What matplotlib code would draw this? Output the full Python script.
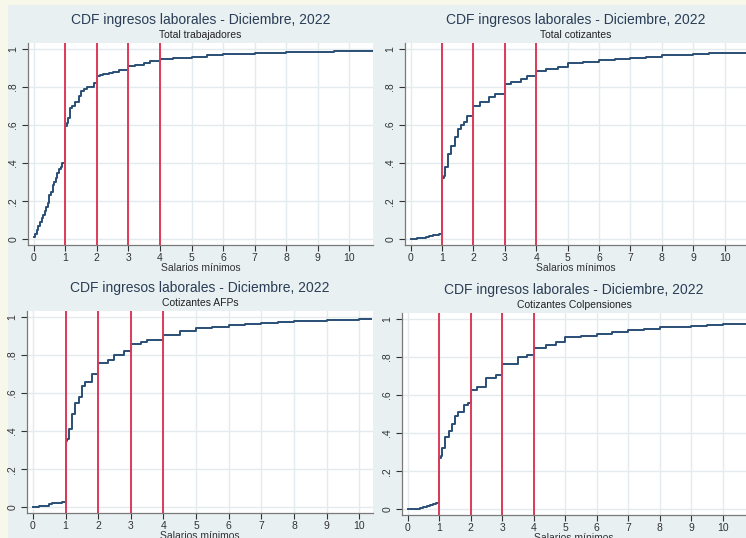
import numpy as np
import matplotlib.pyplot as plt
from matplotlib.patches import Rectangle

# ==========================
# datos
# ==========================
titulo = "CDF ingresos laborales - Diciembre, 2022"
subtitulos = ["Total trabajadores", "Total cotizantes", "Cotizantes AFPs", "Cotizantes Colpensiones"]
salarios_ref = [1, 2, 3, 4]

tl_x = [0, 0.05, 0.1, 0.15, 0.2, 0.25, 0.3, 0.35, 0.4, 0.45, 0.5, 0.55, 0.6, 0.65, 0.7, 0.75, 0.8, 0.85, 0.9,
        1.0, 1.05, 1.1, 1.15, 1.2, 1.3, 1.45, 1.5, 1.6, 1.7, 1.9, 2.0, 2.1, 2.2, 2.4, 2.5, 2.7, 3.0, 3.2, 3.5,
        3.7, 4.0, 4.2, 4.4, 4.7, 5.0, 5.5, 6.0, 6.5, 7.0, 7.5, 8.0, 8.5, 9.0, 9.5, 10.0, 10.75]
tl_y = [0.01, 0.03, 0.05, 0.07, 0.09, 0.11, 0.13, 0.15, 0.17, 0.19, 0.23, 0.25, 0.285, 0.3, 0.32, 0.35, 0.37, 0.38, 0.40,
        0.595, 0.61, 0.635, 0.69, 0.70, 0.72, 0.75, 0.78, 0.79, 0.80, 0.82, 0.855, 0.86, 0.865, 0.87, 0.88, 0.89, 0.91, 0.915, 0.925,
        0.935, 0.945, 0.948, 0.95, 0.953, 0.958, 0.965, 0.97, 0.972, 0.975, 0.978, 0.981, 0.983, 0.985, 0.987, 0.99, 0.99]

tr_x = [0, 0.2, 0.4, 0.5, 0.6, 0.7, 0.8, 0.9, 1.0, 1.05, 1.1, 1.2, 1.3, 1.4, 1.5, 1.6, 1.7, 1.8, 2.0, 2.2,
        2.5, 2.7, 3.0, 3.2, 3.5, 3.7, 4.0, 4.3, 4.7, 5.0, 5.5, 6.0, 6.5, 7.0, 7.5, 8.0, 8.5, 9.0, 9.5, 10.0, 10.7]
tr_y = [0.0, 0.005, 0.008, 0.01, 0.015, 0.02, 0.025, 0.03, 0.32, 0.33, 0.38, 0.45, 0.49, 0.535, 0.58, 0.60, 0.615, 0.645, 0.70, 0.72,
        0.745, 0.765, 0.815, 0.825, 0.84, 0.855, 0.885, 0.895, 0.905, 0.925, 0.93, 0.94, 0.945, 0.95, 0.957, 0.965, 0.968, 0.972, 0.976, 0.98, 0.98]

bl_x = [0, 0.2, 0.4, 0.5, 0.6, 0.7, 0.8, 0.9, 1.0, 1.05, 1.1, 1.2, 1.3, 1.4, 1.5, 1.6, 1.8, 2.0, 2.3,
        2.5, 2.8, 3.0, 3.3, 3.5, 4.0, 4.5, 5.0, 5.5, 6.0, 6.5, 7.0, 7.5, 8.0, 9.0, 10.0, 10.35]
bl_y = [0.0, 0.005, 0.008, 0.015, 0.02, 0.022, 0.025, 0.03, 0.35, 0.36, 0.41, 0.49, 0.545, 0.58, 0.635, 0.66, 0.70, 0.755, 0.775,
        0.80, 0.82, 0.855, 0.865, 0.88, 0.905, 0.925, 0.94, 0.948, 0.955, 0.96, 0.965, 0.97, 0.98, 0.985, 0.99, 0.99]

br_x = [0, 0.2, 0.4, 0.5, 0.6, 0.7, 0.8, 0.9, 1.0, 1.05, 1.1, 1.2, 1.3, 1.4, 1.5, 1.6, 1.8, 1.9, 2.0, 2.2,
        2.5, 2.8, 3.0, 3.5, 3.8, 4.0, 4.4, 4.7, 5.0, 5.5, 6.0, 6.5, 7.0, 7.5, 8.0, 8.5, 9.0, 9.5, 10.0, 10.75]
br_y = [0.0, 0.003, 0.008, 0.012, 0.017, 0.022, 0.028, 0.035, 0.27, 0.28, 0.32, 0.38, 0.41, 0.45, 0.49, 0.51, 0.545, 0.56, 0.625, 0.64,
        0.69, 0.705, 0.765, 0.80, 0.81, 0.845, 0.86, 0.88, 0.905, 0.91, 0.92, 0.928, 0.94, 0.947, 0.955, 0.958, 0.962, 0.967, 0.972, 0.972]

series = [(tl_x, tl_y), (tr_x, tr_y), (bl_x, bl_y), (br_x, br_y)]

# ==========================
# layout (pixeles)
# ==========================
W, H = 746, 538
# left, right, top, bottom, xmax
cajas = [(28, 373, 43, 245, 10.75), (405, 746, 43, 245, 10.68),
         (27, 373, 311, 513, 10.42), (402, 746, 313, 515, 10.74)]

navy = "#2a4f75"
rojo = "#dc3b5a"
fondo = "#e8f0f2"

plt.rcParams["font.family"] = ["Liberation Sans", "DejaVu Sans"]

fig = plt.figure(figsize=(W / 100, H / 100), dpi=100)
fig.patch.set_facecolor("#f8f8ea")
fig.patches.append(Rectangle((8 / W, 0), 1 - 8 / W, 1 - 5 / H, transform=fig.transFigure,
                             facecolor=fondo, edgecolor="none", zorder=-5))

for (x, y), sub, (L, R, T, B, xmax) in zip(series, subtitulos, cajas):
    ax = fig.add_axes([L / W, 1 - B / H, (R - L) / W, (B - T) / H])
    ax.set_zorder(2)
    ax.set_facecolor("white")
    ax.plot(x, y, drawstyle="steps-post", color=navy, lw=1.4, zorder=3)
    for s in salarios_ref:
        ax.axvline(s, color=rojo, lw=1.4, zorder=4)

    ax.set_xlim(-0.18, xmax)
    ax.set_ylim(-0.03, 1.03)
    ax.set_xticks(range(0, 11))
    ax.set_yticks([0, 0.2, 0.4, 0.6, 0.8, 1])
    ax.set_yticklabels(["0", ".2", ".4", ".6", ".8", "1"], rotation=90, va="center")
    ax.grid(True, color="#e3ebee", lw=1.0, zorder=0)
    ax.tick_params(labelsize=7.5, colors="#333333", length=4, width=0.8, pad=1.5)
    ax.tick_params(axis="y", pad=3)
    for lado in ["top", "right"]:
        ax.spines[lado].set_visible(False)
    for lado in ["left", "bottom"]:
        ax.spines[lado].set_color("#7a7a7a")
        ax.spines[lado].set_linewidth(0.9)
    ax.set_xlabel("Salarios mínimos", fontsize=7.5, color="#333333", labelpad=0)

    cx = (L + R) / 2 / W
    fig.text(cx, 1 - (T - 23) / H, titulo, ha="center", va="center", fontsize=10, color="#2a3d55")
    fig.text(cx, 1 - (T - 8) / H, sub, ha="center", va="center", fontsize=7.5, color="#222222")

plt.savefig("out.png", dpi=100)
plt.close()
